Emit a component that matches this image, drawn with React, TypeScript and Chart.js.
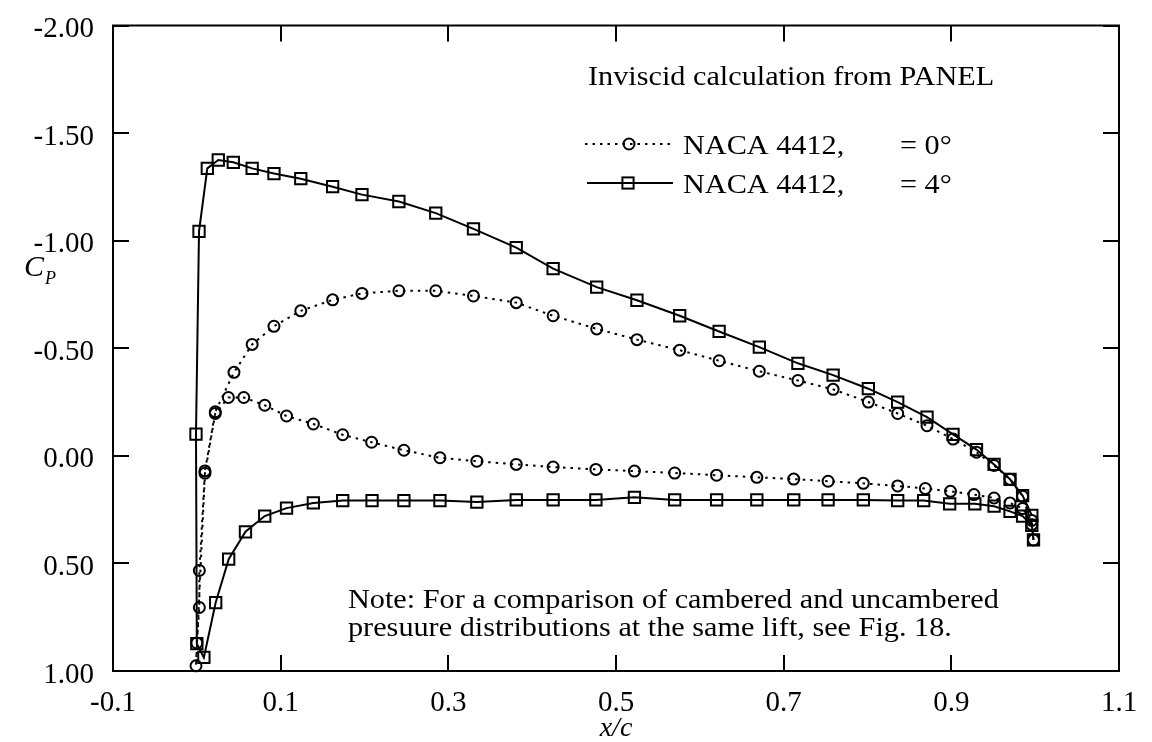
import React, { useEffect, useRef } from 'react';
import { Chart, registerables } from 'chart.js';

Chart.register(...registerables);

// ---- Data (x/c, Cp), ordered lower surface TE -> LE, upper surface LE -> TE ----
const x4Lower = [0.998, 0.996, 0.985, 0.970, 0.951, 0.928, 0.898, 0.867, 0.836, 0.795, 0.753, 0.712, 0.668, 0.620, 0.570, 0.522, 0.476, 0.425, 0.381, 0.334, 0.290, 0.247, 0.209, 0.174, 0.139, 0.107, 0.081, 0.058, 0.038, 0.0225, 0.0084, 0.0];
const cp4Lower = [0.391, 0.323, 0.280, 0.258, 0.234, 0.223, 0.223, 0.208, 0.208, 0.205, 0.205, 0.205, 0.205, 0.205, 0.205, 0.193, 0.205, 0.205, 0.205, 0.215, 0.208, 0.208, 0.208, 0.208, 0.219, 0.243, 0.280, 0.353, 0.480, 0.682, 0.937, 0.873];
const x4Upper = [-0.001, 0.0026, 0.0125, 0.0256, 0.0435, 0.066, 0.092, 0.124, 0.162, 0.197, 0.241, 0.285, 0.330, 0.381, 0.425, 0.477, 0.525, 0.576, 0.623, 0.671, 0.717, 0.759, 0.801, 0.836, 0.871, 0.902, 0.930, 0.951, 0.970, 0.985, 0.996];
const cp4Upper = [-0.101, -1.043, -1.336, -1.375, -1.364, -1.336, -1.312, -1.288, -1.251, -1.214, -1.182, -1.128, -1.055, -0.968, -0.870, -0.784, -0.723, -0.651, -0.578, -0.505, -0.430, -0.375, -0.312, -0.250, -0.180, -0.100, -0.029, 0.040, 0.109, 0.185, 0.277];

const x0Lower = [0.998, 0.996, 0.985, 0.970, 0.951, 0.927, 0.899, 0.869, 0.836, 0.795, 0.753, 0.712, 0.668, 0.620, 0.570, 0.522, 0.476, 0.425, 0.381, 0.334, 0.290, 0.247, 0.2085, 0.174, 0.139, 0.107, 0.081, 0.056, 0.0376, 0.022, 0.0097, -0.001];
const cp0Lower = [0.391, 0.300, 0.245, 0.219, 0.196, 0.180, 0.165, 0.152, 0.140, 0.128, 0.118, 0.108, 0.100, 0.090, 0.080, 0.071, 0.063, 0.052, 0.040, 0.025, 0.009, -0.026, -0.063, -0.098, -0.148, -0.185, -0.235, -0.271, -0.271, -0.197, 0.081, 0.976];
const x0Upper = [0.0, 0.003, 0.003, 0.0097, 0.022, 0.0443, 0.066, 0.092, 0.124, 0.162, 0.197, 0.241, 0.285, 0.330, 0.381, 0.425, 0.477, 0.525, 0.576, 0.623, 0.671, 0.717, 0.759, 0.801, 0.836, 0.871, 0.902, 0.930, 0.951, 0.970, 0.985, 0.996];
const cp0Upper = [0.870, 0.705, 0.533, 0.070, -0.205, -0.388, -0.518, -0.602, -0.674, -0.725, -0.755, -0.767, -0.767, -0.743, -0.712, -0.651, -0.590, -0.540, -0.491, -0.442, -0.393, -0.350, -0.309, -0.250, -0.197, -0.140, -0.078, -0.017, 0.045, 0.109, 0.188, 0.320];

const xTickValues = [-0.1, 0.1, 0.3, 0.5, 0.7, 0.9, 1.1];
const yTickValues = [-2.0, -1.5, -1.0, -0.5, 0.0, 0.5, 1.0];

const legendTitle = 'Inviscid calculation from PANEL';
const seriesNames = ['NACA 4412,', 'NACA 4412,'];
const seriesAngles = ['= 0°', '= 4°'];
const noteLines = [
  'Note: For a comparison of cambered and uncambered',
  'presuure distributions at the same lift, see Fig. 18.',
];

const SERIF = '"Liberation Serif", "Times New Roman", Times, serif';
const DOT_DASH = [2.5, 5];

const toPoints = (xs: number[], ys: number[]) => xs.map((x, i) => ({ x, y: ys[i] }));

function drawText(ctx: CanvasRenderingContext2D, text: string, x: number, y: number, font: string, sx = 1, align: CanvasTextAlign = 'left') {
  ctx.save();
  ctx.font = font;
  ctx.textAlign = align;
  ctx.textBaseline = 'alphabetic';
  ctx.fillStyle = '#000';
  ctx.translate(x, y);
  ctx.scale(sx, 1);
  ctx.fillText(text, 0, 0);
  ctx.restore();
}

const framePlugin = {
  id: 'frame',
  afterDraw(chart: any) {
    const { ctx, chartArea: a, scales } = chart;
    const xs = scales.x;
    const ys = scales.y;
    ctx.save();
    ctx.strokeStyle = '#000';
    ctx.fillStyle = '#000';
    ctx.lineWidth = 2;
    ctx.setLineDash([]);
    ctx.strokeRect(a.left, a.top, a.right - a.left, a.bottom - a.top);

    const T = 16;
    ctx.beginPath();
    xs.ticks.forEach((t: any) => {
      const p = Math.round(xs.getPixelForValue(t.value));
      ctx.moveTo(p, a.bottom);
      ctx.lineTo(p, a.bottom - T);
      ctx.moveTo(p, a.top);
      ctx.lineTo(p, a.top + T);
    });
    ys.ticks.forEach((t: any) => {
      const p = Math.round(ys.getPixelForValue(t.value));
      ctx.moveTo(a.left, p);
      ctx.lineTo(a.left + T, p);
      ctx.moveTo(a.right, p);
      ctx.lineTo(a.right - T, p);
    });
    ctx.stroke();

    // Axis titles
    drawText(ctx, 'C', 24, 276, `italic 30px ${SERIF}`);
    drawText(ctx, 'P', 45, 284, `italic 18px ${SERIF}`);
    drawText(ctx, 'x/c', (a.left + a.right) / 2, 736, `italic 28px ${SERIF}`, 1, 'center');

    // Legend block
    const tFont = `27px ${SERIF}`;
    const sx = 1.12;
    drawText(ctx, legendTitle, 588, 85, tFont, sx);

    // row 1: dotted + circle
    const r1 = 144;
    ctx.lineWidth = 2;
    ctx.setLineDash(DOT_DASH);
    ctx.beginPath();
    ctx.moveTo(585, r1);
    ctx.lineTo(673, r1);
    ctx.stroke();
    ctx.setLineDash([]);
    ctx.beginPath();
    ctx.arc(629, r1, 5.5, 0, Math.PI * 2);
    ctx.stroke();
    drawText(ctx, seriesNames[0], 683, 154, tFont, sx);
    drawText(ctx, seriesAngles[0], 900, 154, tFont, sx);

    // row 2: solid + square
    const r2 = 183;
    ctx.beginPath();
    ctx.moveTo(587, r2);
    ctx.lineTo(673, r2);
    ctx.stroke();
    ctx.strokeRect(628 - 5.6, r2 - 5.6, 11.2, 11.2);
    drawText(ctx, seriesNames[1], 683, 193, tFont, sx);
    drawText(ctx, seriesAngles[1], 900, 193, tFont, sx);

    // Note
    drawText(ctx, noteLines[0], 348, 608, tFont, sx);
    drawText(ctx, noteLines[1], 348, 636, tFont, sx);

    ctx.restore();
  },
};

export default function App() {
  const canvasRef = useRef<HTMLCanvasElement | null>(null);

  useEffect(() => {
    const canvas = canvasRef.current;
    if (!canvas) return;
    const tickFont = { family: SERIF, size: 29, lineHeight: 1 };
    const chart = new Chart(canvas, {
      type: 'scatter',
      data: {
        datasets: [
          {
            label: 'NACA 4412, α = 0°',
            data: [...toPoints(x0Lower, cp0Lower), ...toPoints(x0Upper, cp0Upper)],
            showLine: true,
            borderColor: '#000',
            borderWidth: 2,
            borderDash: DOT_DASH,
            pointStyle: 'circle',
            pointRadius: 5.5,
            pointBorderWidth: 2,
            pointBorderColor: '#000',
            pointBackgroundColor: 'rgba(0,0,0,0)',
            tension: 0,
            clip: false,
          } as any,
          {
            label: 'NACA 4412, α = 4°',
            data: [...toPoints(x4Lower, cp4Lower), ...toPoints(x4Upper, cp4Upper)],
            showLine: true,
            borderColor: '#000',
            borderWidth: 2,
            pointStyle: 'rect',
            pointRadius: 8,
            pointBorderWidth: 2,
            pointBorderColor: '#000',
            pointBackgroundColor: 'rgba(0,0,0,0)',
            tension: 0,
            clip: false,
          } as any,
        ],
      },
      options: {
        animation: false,
        responsive: false,
        devicePixelRatio: 1,
        events: [],
        layout: { padding: { top: 17, right: 33, left: 0, bottom: 0 } },
        plugins: {
          legend: { display: false },
          tooltip: { enabled: false },
          title: { display: false },
        },
        scales: {
          x: {
            type: 'linear',
            min: -0.1,
            max: 1.1,
            grid: { display: false },
            border: { display: false },
            afterBuildTicks: (s: any) => {
              s.ticks = xTickValues.map((v) => ({ value: v }));
            },
            afterFit: (s: any) => {
              s.height = 71;
            },
            ticks: {
              autoSkip: false,
              maxRotation: 0,
              padding: 10,
              color: '#000',
              font: tickFont,
              callback: (v: any) => Number(v).toFixed(1),
            },
          },
          y: {
            type: 'linear',
            reverse: true,
            min: -2,
            max: 1,
            grid: { display: false },
            border: { display: false },
            afterBuildTicks: (s: any) => {
              s.ticks = yTickValues.map((v) => ({ value: v }));
            },
            afterFit: (s: any) => {
              s.width = 113;
            },
            ticks: {
              autoSkip: false,
              padding: 11,
              labelOffset: 4,
              color: '#000',
              font: tickFont,
              callback: (v: any) => Number(v).toFixed(2),
            },
          },
        },
      } as any,
      plugins: [framePlugin],
    });
    return () => chart.destroy();
  }, []);

  return (
    <div style={{ position: 'absolute', left: 0, top: 0, width: 1152, height: 742, background: '#fff' }}>
      <canvas ref={canvasRef} width={1152} height={742} style={{ display: 'block', width: 1152, height: 742 }} />
    </div>
  );
}
